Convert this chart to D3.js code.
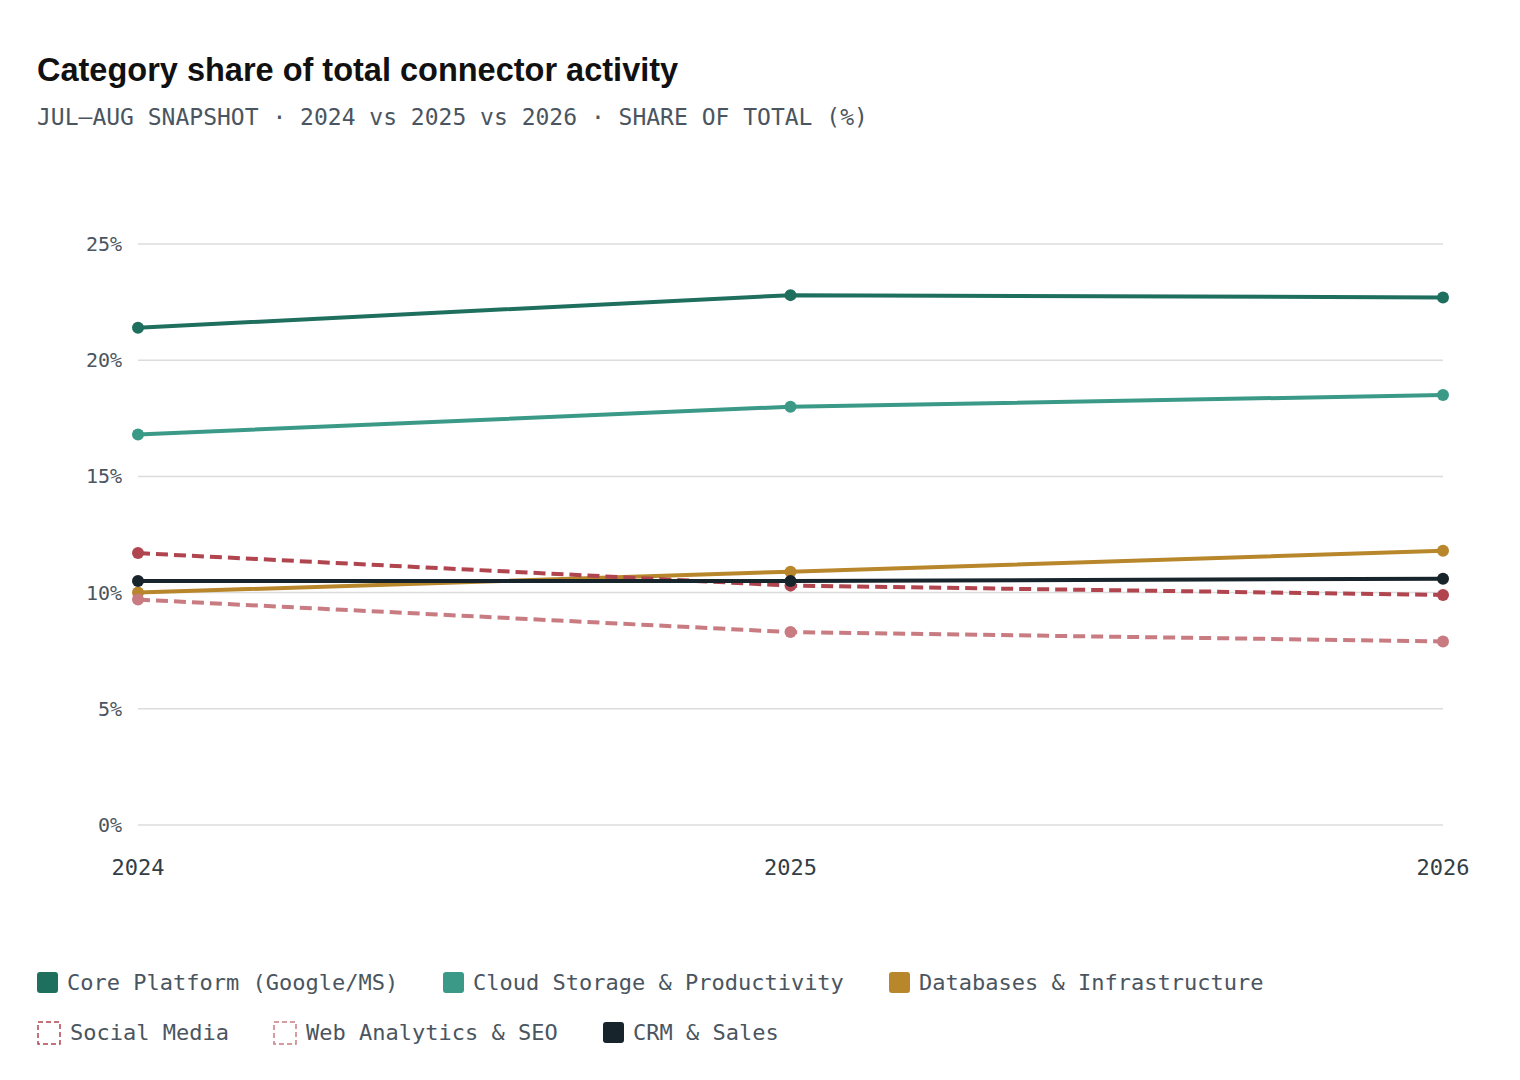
<!DOCTYPE html>
<html><head><meta charset="utf-8">
<script src="https://cdn.jsdelivr.net/npm/d3@7"></script>
<style>
body{margin:0;background:#fff;}
</style></head>
<body><svg id="c" width="1520" height="1080"></svg>
<script>
const years = [2024, 2025, 2026];
const yTicks = [0, 5, 10, 15, 20, 25];
const coreShare = [21.4, 22.8, 22.7];
const cloudShare = [16.8, 18.0, 18.5];
const dbShare = [10.0, 10.9, 11.8];
const socialShare = [11.7, 10.3, 9.9];
const webShare = [9.7, 8.3, 7.9];
const crmShare = [10.5, 10.5, 10.6];

const series = [
  { name: 'Core Platform (Google/MS)', values: coreShare, color: '#1f6f5f', dash: false },
  { name: 'Cloud Storage & Productivity', values: cloudShare, color: '#3a9a87', dash: false },
  { name: 'Databases & Infrastructure', values: dbShare, color: '#b8862b', dash: false },
  { name: 'Social Media', values: socialShare, color: '#b0454f', dash: true },
  { name: 'Web Analytics & SEO', values: webShare, color: '#c97b82', dash: true },
  { name: 'CRM & Sales', values: crmShare, color: '#17242b', dash: false }
];

const svg = d3.select('#c');
const mono = '"DejaVu Sans Mono", monospace';

svg.append('text').attr('x', 37).attr('y', 81)
  .attr('font-family', '"Liberation Sans", Arial, sans-serif')
  .attr('font-weight', 'bold').attr('font-size', 32.5).attr('fill', '#111')
  .text('Category share of total connector activity');
svg.append('text').attr('x', 37).attr('y', 125)
  .attr('font-family', mono).attr('font-size', 23).attr('fill', '#4a5560')
  .text('JUL\u2014AUG SNAPSHOT · 2024 vs 2025 vs 2026 · SHARE OF TOTAL (%)');

const x = d3.scalePoint().domain(years).range([138, 1443]);
const y = d3.scaleLinear().domain([0, 25]).range([825, 244]);

const grid = svg.append('g');
grid.selectAll('line').data(yTicks).enter().append('line')
  .attr('x1', 138).attr('x2', 1443)
  .attr('y1', d => y(d)).attr('y2', d => y(d))
  .attr('stroke', '#dcdcdc').attr('stroke-width', 1.5);
grid.selectAll('text').data(yTicks).enter().append('text')
  .attr('x', 122).attr('y', d => y(d) + 7).attr('text-anchor', 'end')
  .attr('font-family', mono).attr('font-size', 20).attr('fill', '#4a5560')
  .text(d => d + '%');

svg.append('g').selectAll('text').data(years).enter().append('text')
  .attr('x', d => x(d)).attr('y', 875).attr('text-anchor', 'middle')
  .attr('font-family', mono).attr('font-size', 22).attr('fill', '#333d45')
  .text(d => d);

const line = d3.line().x((d, i) => x(years[i])).y(d => y(d));

series.forEach(s => {
  const g = svg.append('g');
  g.append('path').attr('d', line(s.values)).attr('fill', 'none')
    .attr('stroke', s.color).attr('stroke-width', 4)
    .attr('stroke-dasharray', s.dash ? '12,6' : null);
  g.selectAll('circle').data(s.values).enter().append('circle')
    .attr('cx', (d, i) => x(years[i])).attr('cy', d => y(d)).attr('r', 6)
    .attr('fill', s.color);
});

// legend
const rows = [[0, 1, 2], [3, 4, 5]];
const legendX = [[37, 443, 889], [37, 273, 603]];
rows.forEach((r, ri) => {
  r.forEach((si, k) => {
    const s = series[si];
    const gx = legendX[ri][k], gy = ri === 0 ? 983 : 1033;
    const g = svg.append('g');
    if (s.dash) {
      g.append('rect').attr('x', gx + 1).attr('y', gy - 11).attr('width', 22).attr('height', 22)
        .attr('fill', 'none').attr('stroke', s.color).attr('stroke-width', 1.5)
        .attr('stroke-dasharray', '5,3');
    } else {
      g.append('rect').attr('x', gx).attr('y', gy - 11).attr('width', 21).attr('height', 21)
        .attr('rx', 3).attr('fill', s.color);
    }
    g.append('text').attr('x', gx + (s.dash ? 33 : 30)).attr('y', gy + 7)
      .attr('font-family', mono).attr('font-size', 22).attr('fill', '#4a5560')
      .text(s.name);
  });
});
</script></body></html>
